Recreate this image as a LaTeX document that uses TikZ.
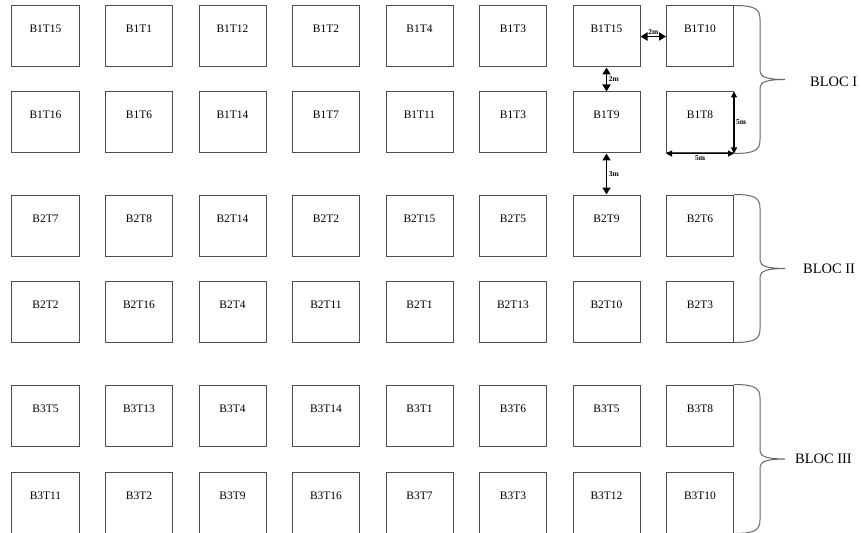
\documentclass[tikz,border=0pt]{standalone}
\usepackage{fontspec}
\setmainfont{Liberation Serif}
\usetikzlibrary{positioning,calc,arrows.meta}

\begin{document}
\begin{tikzpicture}[x=1bp, y=-1bp, node distance=24bp and 25.5bp, >={Triangle[length=7bp,width=8bp]}, plot/.style = {draw=black!70, line width=1bp, minimum width=67bp, inner sep=0pt, text height=27bp, text depth=34bp, font=\fontsize{11.5}{12}\selectfont}, gap/.style={<->, line width=1.8bp}, dim/.style={<->, line width=1.2bp, >={Triangle[length=6bp,width=6bp]}}, tag/.style={font=\bfseries\fontsize{7.5}{8}\selectfont, inner sep=1.5bp}, bloc/.style={draw=black!60, line width=1bp, to path={.. controls +(22,0) and +(0,-10) .. ($(\tikztostart)+(26,14)$) -- ($(\tikztostart)!0.5!(\tikztotarget)+(26,-8)$) .. controls +(0,6) and +(-16,0) .. ($(\tikztostart)!0.5!(\tikztotarget)+(51,0)$) .. controls +(-16,0) and +(0,-6) .. ($(\tikztostart)!0.5!(\tikztotarget)+(26,8)$) -- ($(\tikztotarget)+(26,-14)$) .. controls +(0,10) and +(22,0) .. (\tikztotarget)}}, blocname/.style={font=\fontsize{14.5}{16}\selectfont, inner sep=0pt, anchor=west}]

\useasboundingbox (0,0) rectangle (862,533);

% bloc I
\node[plot] (r1c1) at (45.5,36.5) {B1T15};
\node[plot] (r1c2) [right=of r1c1] {B1T1};
\node[plot] (r1c3) [right=of r1c2] {B1T12};
\node[plot] (r1c4) [right=of r1c3] {B1T2};
\node[plot] (r1c5) [right=of r1c4] {B1T4};
\node[plot] (r1c6) [right=of r1c5] {B1T3};
\node[plot] (r1c7) [right=of r1c6] {B1T15};
\node[plot] (r1c8) [right=of r1c7] {B1T10};

\node[plot] (r2c1) [below=of r1c1] {B1T16};
\node[plot] (r2c2) [right=of r2c1] {B1T6};
\node[plot] (r2c3) [right=of r2c2] {B1T14};
\node[plot] (r2c4) [right=of r2c3] {B1T7};
\node[plot] (r2c5) [right=of r2c4] {B1T11};
\node[plot] (r2c6) [right=of r2c5] {B1T3};
\node[plot] (r2c7) [right=of r2c6] {B1T9};
\node[plot] (r2c8) [right=of r2c7] {B1T8};

% bloc II
\node[plot] (r3c1) [below=41bp of r2c1] {B2T7};
\node[plot] (r3c2) [right=of r3c1] {B2T8};
\node[plot] (r3c3) [right=of r3c2] {B2T14};
\node[plot] (r3c4) [right=of r3c3] {B2T2};
\node[plot] (r3c5) [right=of r3c4] {B2T15};
\node[plot] (r3c6) [right=of r3c5] {B2T5};
\node[plot] (r3c7) [right=of r3c6] {B2T9};
\node[plot] (r3c8) [right=of r3c7] {B2T6};

\node[plot] (r4c1) [below=of r3c1] {B2T2};
\node[plot] (r4c2) [right=of r4c1] {B2T16};
\node[plot] (r4c3) [right=of r4c2] {B2T4};
\node[plot] (r4c4) [right=of r4c3] {B2T11};
\node[plot] (r4c5) [right=of r4c4] {B2T1};
\node[plot] (r4c6) [right=of r4c5] {B2T13};
\node[plot] (r4c7) [right=of r4c6] {B2T10};
\node[plot] (r4c8) [right=of r4c7] {B2T3};

% bloc III
\node[plot] (r5c1) [below=42bp of r4c1] {B3T5};
\node[plot] (r5c2) [right=of r5c1] {B3T13};
\node[plot] (r5c3) [right=of r5c2] {B3T4};
\node[plot] (r5c4) [right=of r5c3] {B3T14};
\node[plot] (r5c5) [right=of r5c4] {B3T1};
\node[plot] (r5c6) [right=of r5c5] {B3T6};
\node[plot] (r5c7) [right=of r5c6] {B3T5};
\node[plot] (r5c8) [right=of r5c7] {B3T8};

\node[plot] (r6c1) [below=25bp of r5c1] {B3T11};
\node[plot] (r6c2) [right=of r6c1] {B3T2};
\node[plot] (r6c3) [right=of r6c2] {B3T9};
\node[plot] (r6c4) [right=of r6c3] {B3T16};
\node[plot] (r6c5) [right=of r6c4] {B3T7};
\node[plot] (r6c6) [right=of r6c5] {B3T3};
\node[plot] (r6c7) [right=of r6c6] {B3T12};
\node[plot] (r6c8) [right=of r6c7] {B3T10};

\path
    (r1c7) edge[gap] node[tag, above] {2m} (r1c8)
    (r1c7) edge[gap] node[tag, right] {2m} (r2c7)
    (r2c7) edge[gap] node[tag, right] {3m} (r3c7)
    (r2c8.north east) edge[dim] node[tag, right] {5m} (r2c8.south east)
    (r2c8.south west) edge[dim] node[tag, below] {5m} (r2c8.south east);

% braces
\draw[bloc] (r1c8.north east) to (r2c8.south east);
\draw[bloc] (r3c8.north east) to (r4c8.south east);
\draw[bloc] (r5c8.north east) to (r6c8.south east);
\node[blocname] (bloc1) at ($(r1c8.north east)!0.5!(r2c8.south east)+(76,2)$) {BLOC I};
\node[blocname] (bloc2) at ($(r3c8.north east)!0.5!(r4c8.south east)+(69,0)$) {BLOC II};
\node[blocname] (bloc3) at ($(r5c8.north east)!0.5!(r6c8.south east)+(61,0)$) {BLOC III};
\end{tikzpicture}
\end{document}
